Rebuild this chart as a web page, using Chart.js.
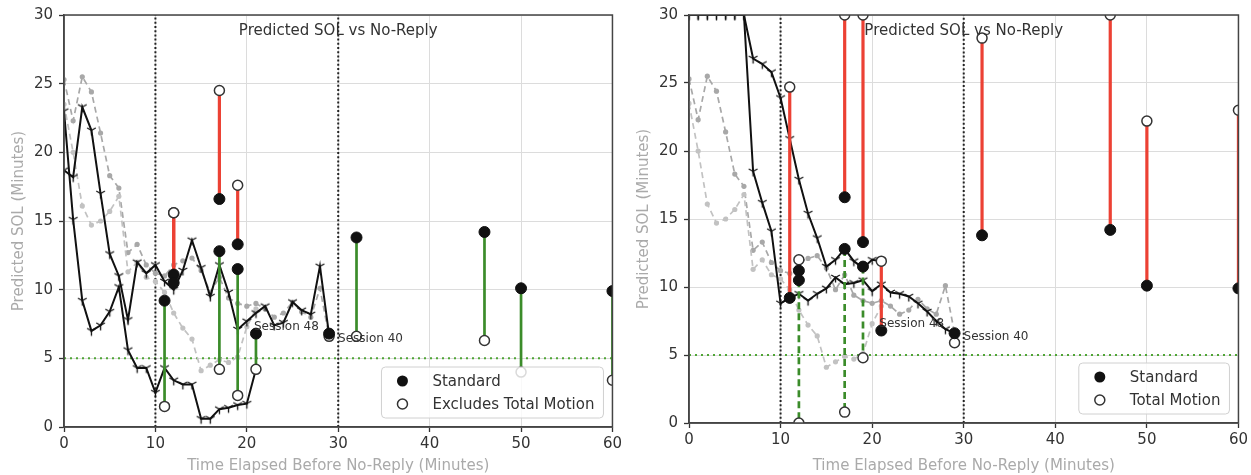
<!DOCTYPE html>
<html><head><meta charset="utf-8">
<script src="https://cdn.jsdelivr.net/npm/chart.js@4.4.0/dist/chart.umd.min.js"></script>
<style>
html,body{margin:0;padding:0;background:#fff;width:1251px;height:475px;overflow:hidden}
#l{position:absolute;left:0;top:0}
#r{position:absolute;left:625px;top:0}
</style></head><body>
<canvas id="l" width="625" height="475"></canvas>
<canvas id="r" width="626" height="475"></canvas>
<script>
// ---------- data ----------
const xTicks = [0, 10, 20, 30, 40, 50, 60];
const yTicks = [0, 5, 10, 15, 20, 25, 30];
const lineTimes = [0,1,2,3,4,5,6,7,8,9,10,11,12,13,14,15,16,17,18,19,20,21,22,23,24,25,26,27,28,29];

const grayA = [25.3,22.3,25.5,24.4,21.4,18.3,17.4,12.7,13.3,11.8,11.2,11.0,11.8,12.1,12.3,11.4,9.8,10.9,9.4,9.0,8.8,9.0,8.6,8.0,8.3,9.1,8.4,8.0,10.1,6.6];
const grayB = [23.5,20.0,16.1,14.7,15.0,15.7,16.8,11.3,12.0,10.9,10.6,9.8,8.3,7.2,6.4,4.1,4.5,4.9,4.7,5.1,7.3,8.6];

const leftBlack1 = [18.7,18.2,23.3,21.6,17.0,12.6,11.0,7.8,12.0,11.2,11.8,10.6,10.0,11.4,13.6,11.6,9.5,11.8,9.8,7.1,7.7,8.3,8.8,7.4,7.6,9.1,8.5,8.2,11.7,6.7];
const leftBlack2 = [23.0,15.1,9.2,7.0,7.4,8.4,10.2,5.6,4.3,4.3,2.5,4.3,3.4,3.1,3.1,0.6,0.6,1.3,1.4,1.6,1.7,4.2];

const rightBlackA = [30,30,30,30,30,30,30,18.5,16.2,14.1,8.8,9.2,9.5,9.0,9.5,9.9,10.7,10.2,10.3,10.5,9.7,10.2,9.6,9.5,9.3,8.8,8.2,7.5,6.9,6.6];
const rightBlackB = [30,30,30,30,30,30,30,26.8,26.4,25.8,23.9,20.9,17.9,15.4,13.6,11.5,12.0,12.8,11.9,11.4,12.0,11.9];

const leftStemX   = [11,12,12,17,17,19,19,21,29,32,46,50,60];
const leftStd     = [9.2,11.1,10.5,16.6,12.8,13.3,11.5,6.8,6.8,13.8,14.2,10.1,9.9];
const leftAlt     = [1.5,15.6,15.6,24.5,4.2,17.6,2.3,4.2,6.6,6.6,6.3,4.0,3.4];

const rightStemX  = [11,12,12,17,17,19,19,21,29,32,46,50,60];
const rightStd    = [9.2,11.2,10.5,16.6,12.8,13.3,11.5,6.8,6.6,13.8,14.2,10.1,9.9];
const rightAlt    = [24.7,12.0,0.0,30,0.8,30,4.8,11.9,5.9,28.3,30,22.2,23.0];

const refVLines = [10, 30];
const refHLine = 5;

const titleText = 'Predicted SOL vs No-Reply';
const xTitle = 'Time Elapsed Before No-Reply (Minutes)';
const yTitle = 'Predicted SOL (Minutes)';
const leftLegend = ['Standard', 'Excludes Total Motion'];
const rightLegend = ['Standard', 'Total Motion'];
const sessionNames = ['Session 48', 'Session 40'];
const sessionX = [21, 29];
const leftSessionY = [6.8, 6.7];
const rightSessionY = [6.8, 6.6];

// ---------- helpers ----------
const FONT = '"DejaVu Sans", sans-serif';
const RED = '#ec4134', GREEN = '#3b8c2a';

function triDown() {
  const c = document.createElement('canvas'); c.width = 13; c.height = 13;
  const g = c.getContext('2d'); g.strokeStyle = '#111'; g.lineWidth = 1.3;
  const cx = 6.5, cy = 6.5, r = 5;
  g.beginPath();
  g.moveTo(cx, cy); g.lineTo(cx, cy + r);
  g.moveTo(cx, cy); g.lineTo(cx - r * 0.866, cy - r * 0.5);
  g.moveTo(cx, cy); g.lineTo(cx + r * 0.866, cy - r * 0.5);
  g.stroke();
  return c;
}
const tri = triDown();

function pts(ts, vs) { return vs.map((v, i) => ({x: ts[i], y: v})); }

function buildDatasets(black1, black2, stemX, std, alt, greenDash) {
  const ds = [];
  refVLines.forEach(v => ds.push({data: [{x: v, y: 0}, {x: v, y: 30}], showLine: true, pointRadius: 0,
    borderColor: '#222', borderWidth: 2, borderDash: [2, 2.2], order: 8}));
  ds.push({data: [{x: 0, y: refHLine}, {x: 60, y: refHLine}], showLine: true, pointRadius: 0,
    borderColor: '#4fa536', borderWidth: 2, borderDash: [2, 4], order: 8});
  ds.push({data: pts(lineTimes, grayB), showLine: true, borderColor: '#c2c2c2', borderWidth: 1.7,
    borderDash: [6, 4], pointRadius: 2.6, pointBackgroundColor: '#c2c2c2', pointBorderWidth: 0, order: 7});
  ds.push({data: pts(lineTimes, grayA), showLine: true, borderColor: '#a8a8a8', borderWidth: 1.7,
    borderDash: [6, 4], pointRadius: 2.6, pointBackgroundColor: '#a8a8a8', pointBorderWidth: 0, order: 7});
  [black1, black2].forEach(b => ds.push({data: pts(lineTimes, b), showLine: true, borderColor: '#111',
    borderWidth: 2, pointStyle: tri, pointRadius: 5, order: 5}));
  stemX.forEach((x, i) => {
    if (alt[i] === null || alt[i] === std[i]) return;
    const up = alt[i] > std[i];
    ds.push({data: [{x, y: std[i]}, {x, y: alt[i]}], showLine: true, pointRadius: 0,
      borderColor: up ? RED : GREEN, borderWidth: up ? 3.2 : 2.7,
      borderDash: (!up && greenDash) ? [7, 4] : [], order: 4});
  });
  ds.push({data: pts(stemX, alt), pointRadius: 5, pointBackgroundColor: '#fff',
    pointBorderColor: '#333', pointBorderWidth: 1.5, order: 3});
  ds.push({data: pts(stemX, std), pointRadius: 5.5, pointBackgroundColor: '#111',
    pointBorderColor: '#111', pointBorderWidth: 1, order: 2});
  return ds;
}

const decor = {
  id: 'decor',
  afterDatasetsDraw(chart, args, o) {
    const {ctx, chartArea: a, scales: {x, y}} = chart;
    ctx.save();
    ctx.fillStyle = '#333';
    ctx.font = '15px ' + FONT; ctx.textAlign = 'center'; ctx.textBaseline = 'middle';
    ctx.fillText(titleText, (a.left + a.right) / 2, a.top + 16);
    ctx.font = '12px ' + FONT; ctx.textAlign = 'left';
    const offs = [[-2, -7], [9, 4]];
    sessionNames.forEach((n, i) => {
      ctx.fillText(n, x.getPixelForValue(sessionX[i]) + offs[i][0], y.getPixelForValue(o.sessionY[i]) + offs[i][1]);
    });
    ctx.restore();
  },
  afterDraw(chart, args, o) {
    const {ctx, chartArea: a} = chart;
    ctx.save();
    ctx.strokeStyle = '#444'; ctx.lineWidth = 1.5;
    ctx.strokeRect(a.left, a.top, a.right - a.left, a.bottom - a.top);
    ctx.font = '15px ' + FONT;
    const w = Math.max(...o.legend.map(t => ctx.measureText(t).width));
    const bw = 51 + w + 9, bh = 51;
    const bx = a.right - 9 - bw, by = a.bottom - 9 - bh;
    ctx.beginPath(); ctx.roundRect(bx, by, bw, bh, 4);
    ctx.fillStyle = 'rgba(255,255,255,0.82)'; ctx.fill();
    ctx.strokeStyle = '#d0d0d0'; ctx.lineWidth = 1; ctx.stroke();
    const rows = [by + 14, by + 37];
    ctx.beginPath(); ctx.arc(bx + 21, rows[0], 5.5, 0, Math.PI * 2); ctx.fillStyle = '#111'; ctx.fill();
    ctx.beginPath(); ctx.arc(bx + 21, rows[1], 5, 0, Math.PI * 2); ctx.fillStyle = '#fff'; ctx.fill();
    ctx.strokeStyle = '#333'; ctx.lineWidth = 1.5; ctx.stroke();
    ctx.fillStyle = '#333'; ctx.textAlign = 'left'; ctx.textBaseline = 'middle';
    o.legend.forEach((t, i) => ctx.fillText(t, bx + 51, rows[i] + 1));
    ctx.restore();
  }
};

function makeChart(id, datasets, pad, xh, legend, sessionY) {
  new Chart(document.getElementById(id), {
    type: 'scatter',
    data: {datasets},
    plugins: [decor],
    options: {
      responsive: false, animation: false, devicePixelRatio: 1,
      layout: {padding: pad},
      plugins: {legend: {display: false}, tooltip: {enabled: false}, decor: {legend, sessionY}},
      scales: {
        x: {type: 'linear', min: 0, max: 60,
          afterBuildTicks: s => { s.ticks = xTicks.map(v => ({value: v})); },
          afterFit: s => { s.height = xh; },
          ticks: {color: '#333', font: {family: FONT, size: 15}, padding: 3},
          grid: {color: '#dcdcdc', lineWidth: 1, tickLength: 5, tickColor: '#333', tickWidth: 1.3},
          border: {display: true, color: '#444', width: 1.5},
          title: {display: true, text: xTitle, color: '#aaaaaa', font: {family: FONT, size: 15}, padding: {top: 0, bottom: 0}}
        },
        y: {type: 'linear', min: 0, max: 30,
          afterBuildTicks: s => { s.ticks = yTicks.map(v => ({value: v})); },
          afterFit: s => { s.width = 64; },
          ticks: {color: '#333', font: {family: FONT, size: 15}, padding: 6},
          grid: {color: '#dcdcdc', lineWidth: 1, tickLength: 5, tickColor: '#333', tickWidth: 1.3},
          border: {display: true, color: '#444', width: 1.5},
          title: {display: true, text: yTitle, color: '#aaaaaa', font: {family: FONT, size: 15}, padding: {top: 10, bottom: 0}}
        }
      }
    }
  });
}

makeChart('l', buildDatasets(leftBlack1, leftBlack2, leftStemX, leftStd, leftAlt, false),
  {top: 13, right: 3, left: 0, bottom: 0}, 48, leftLegend, leftSessionY);
makeChart('r', buildDatasets(rightBlackA, rightBlackB, rightStemX, rightStd, rightAlt, true),
  {top: 12, right: 11, left: 0, bottom: 0}, 52, rightLegend, rightSessionY);
</script>
</body></html>
